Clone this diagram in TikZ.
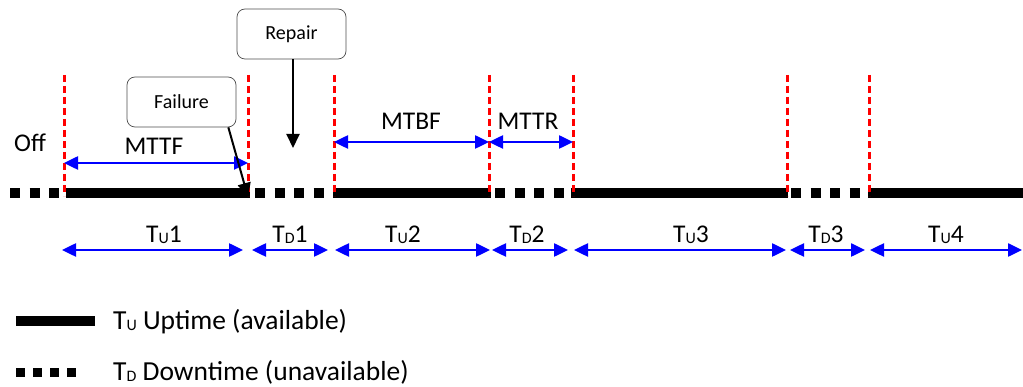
\documentclass[tikz,border=0pt]{standalone}
\usepackage{fontspec}
\setmainfont{Carlito}
\usetikzlibrary{arrows.meta}
\newcommand\TS[1]{T\raisebox{-1pt}{\fontsize{16}{16}\selectfont #1}}
\begin{document}
\begin{tikzpicture}[x=1pt,y=-1pt,
  up/.style={line width=10pt},
  down/.style={line width=10pt, dash pattern=on 10pt off 9.5pt},
  legdown/.style={line width=9pt, dash pattern=on 9pt off 8pt},
  redline/.style={red, line width=3pt, dash pattern=on 7pt off 4pt},
  span/.style={blue, line width=2.5pt, {Triangle[length=14pt,width=13pt]}-{Triangle[length=14pt,width=13pt]}},
  callout/.style={draw=black!70, rounded corners=8pt, minimum width=109pt, minimum height=50pt, font=\fontsize{20}{22}\selectfont, line width=0.7pt},
  pointer/.style={line width=2pt, -{Triangle[length=14pt,width=13pt]}},
  lbl/.style={font=\fontsize{25.5}{28}\selectfont, inner sep=0pt, anchor=base},
  leg/.style={font=\fontsize{27.5}{30}\selectfont, inner sep=0pt, anchor=base west},
]
\useasboundingbox (0,0) rectangle (1023,387);

% timeline coordinates
\coordinate (s0) at (10,193);   \coordinate (e0) at (60,193);
\coordinate (s1) at (66,193);   \coordinate (e1) at (250,193);
\coordinate (s2) at (255,193);  \coordinate (e2) at (325,193);
\coordinate (s3) at (333,193);  \coordinate (e3) at (491,193);
\coordinate (s4) at (495,193);  \coordinate (e4) at (565,193);
\coordinate (s5) at (571,193);  \coordinate (e5) at (788,193);
\coordinate (s6) at (791,193);  \coordinate (e6) at (862,193);
\coordinate (s7) at (868,193);  \coordinate (e7) at (1023,193);

\draw[down] (s0) -- (e0);
\draw[up]   (s1) -- (e1);
\draw[down] (s2) -- (e2);
\draw[up]   (s3) -- (e3);
\draw[down] (s4) -- (e4);
\draw[up]   (s5) -- (e5);
\draw[down] (s6) -- (e6);
\draw[up]   (s7) -- (e7);

% red boundaries
\foreach \x in {64,248,334,489,573,787,869}
  \draw[redline] (\x,75) -- (\x,196);

% top spans
\coordinate (m1) at (64,163);  \coordinate (m2) at (248,163);
\coordinate (b1) at (334,142); \coordinate (b2) at (489,142); \coordinate (b3) at (573,142);
\draw[span] (m1) -- (m2);
\draw[span] (b1) -- (b2);
\draw[span] (b2) -- (b3);
\node[lbl] (mttf) at (154,155) {MTTF};
\node[lbl] (mtbf) at (411,130) {MTBF};
\node[lbl] (mttr) at (528,130) {MTTR};
\node[lbl, anchor=base west] (off) at (14,152) {Off};

% callouts
\node[callout] (fail) at (181.5,102) {Failure};
\node[callout] (rep)  at (291.5,34) {Repair};
\coordinate (ftip) at (248,197);
\coordinate (rtip) at (293,148);
\draw[pointer] ([xshift=-8pt]fail.south east) -- (ftip);
\draw[pointer] (rep.south -| rtip) -- (rtip);

% bottom spans
\coordinate (u1a) at (62,250);  \coordinate (u1b) at (243,250);
\coordinate (d1a) at (252,250); \coordinate (d1b) at (328,250);
\coordinate (u2a) at (335,250); \coordinate (u2b) at (490,250);
\coordinate (d2a) at (492,250); \coordinate (d2b) at (568,250);
\coordinate (u3a) at (574,250); \coordinate (u3b) at (786,250);
\coordinate (d3a) at (790,250); \coordinate (d3b) at (865,250);
\coordinate (u4a) at (870,250); \coordinate (u4b) at (1022,250);
\draw[span] (u1a) -- (u1b);
\draw[span] (d1a) -- (d1b);
\draw[span] (u2a) -- (u2b);
\draw[span] (d2a) -- (d2b);
\draw[span] (u3a) -- (u3b);
\draw[span] (d3a) -- (d3b);
\draw[span] (u4a) -- (u4b);
\node[lbl] (tu1) at (164,243) {\TS{U}1};
\node[lbl] (td1) at (290,243) {\TS{D}1};
\node[lbl] (tu2) at (403,243) {\TS{U}2};
\node[lbl] (td2) at (527,243) {\TS{D}2};
\node[lbl] (tu3) at (691,243) {\TS{U}3};
\node[lbl] (td3) at (826,243) {\TS{D}3};
\node[lbl] (tu4) at (946,243) {\TS{U}4};

% legend
\coordinate (lu1) at (16,321); \coordinate (lu2) at (95,321);
\coordinate (ld1) at (16,372); \coordinate (ld2) at (77,372);
\draw[line width=10pt] (lu1) -- (lu2);
\draw[legdown] (ld1) -- (ld2);
\node[leg] (legu) at (113,330) {\TS{U} Uptime (available)};
\node[leg] (legd) at (113,381) {\TS{D} Downtime (unavailable)};
\end{tikzpicture}
\end{document}
